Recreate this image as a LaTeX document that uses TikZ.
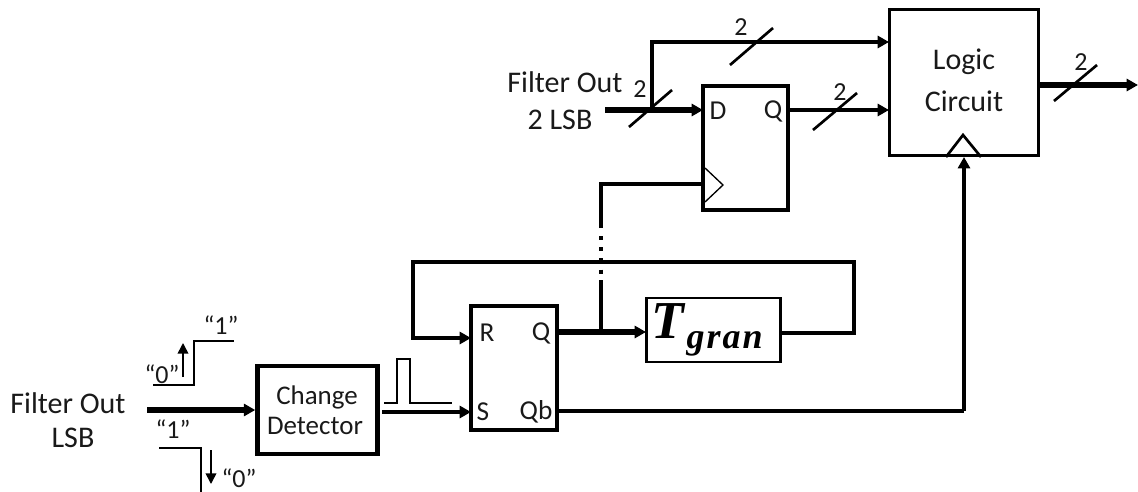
\documentclass[tikz,border=0pt]{standalone}
\usepackage{fontspec}
\setmainfont{Carlito}
\newfontfamily\tgfont{Liberation Serif}
\usetikzlibrary{arrows.meta}
\tikzset{
  x=0.75pt,y=-0.75pt,
  lbl/.style={inner sep=0pt,font=\fontsize{22.5}{26}\selectfont,text=black!90},
  blk/.style={inner sep=0pt,font=\fontsize{20.2}{24}\selectfont,text=black!90},
  pin/.style={inner sep=0pt,font=\fontsize{20.5}{24}\selectfont,text=black!90},
  small/.style={inner sep=0pt,font=\fontsize{19.5}{23}\selectfont,text=black!90},
  boxa/.style={draw,line width=3.4pt,inner sep=0pt,minimum width=0pt},
  boxb/.style={draw,line width=2.1pt,inner sep=0pt},
  bus/.style={line width=3.8pt,-{Triangle[length=8.5pt,width=9pt]}},
  busm/.style={line width=3.4pt,-{Triangle[length=8.5pt,width=9pt]}},
  wire/.style={line width=2.3pt,line cap=rect},
  slash/.style={line width=2pt},
  thin wave/.style={line width=1pt},
  small arrow/.style={line width=1.2pt,-{Triangle[length=8pt,width=8pt]}}
}
\begin{document}
\begin{tikzpicture}
\useasboundingbox (0,0) rectangle (1138,492);
% blocks
\node[boxb,minimum width=112pt,minimum height=110pt] (logic) at (964,82.5) {};
\node[boxa,minimum width=64pt,minimum height=93pt] (dff) at (745.5,148) {};
\node[boxa,minimum width=64.5pt,minimum height=93pt] (sr) at (514,368) {};
\node[boxa,minimum width=90pt,minimum height=66pt] (cd) at (317.5,410) {};
\node[boxb,minimum width=101pt,minimum height=48pt] (tg) at (713.5,330) {};
% block texts
\node[lbl] (logict) at (964,62) {Logic};
\node[lbl] (circt) at (964,101) {Circuit};
\node[blk] (cdt1) at (317,397) {Change};
\node[blk] (cdt2) at (315,426) {Detector};
\node[inner sep=0pt] (tgt) at (707,330) {\tgfont\bfseries\itshape\fontsize{40}{42}\selectfont T\kern2pt\raisebox{-7.5pt}{\fontsize{27}{30}\selectfont g\kern1.5pt r\kern1.5pt a\kern1.5pt n}};
\node[pin] (pd) at (718,111) {D};
\node[pin] (pq) at (773,111) {Q};
\node[pin] (pr) at (487,333) {R};
\node[pin] (pq2) at (541,333) {Q};
\node[pin] (ps) at (483,412) {S};
\node[pin] (pqb) at (536,412) {Qb};
% outside texts
\node[lbl] (fo) at (565,82) {Filter Out};
\node[lbl] (fo2) at (560,120) {2 LSB};
\node[lbl] (lsb1) at (68,403) {Filter Out};
\node[lbl] (lsb2) at (73,438) {LSB};
\node[small] (two1) at (741,27) {2};
\node[small] (two2) at (640,89) {2};
\node[small] (two3) at (840,92) {2};
\node[small] (two4) at (1081,62) {2};
\node[small] (q1) at (221,325) {“1”};
\node[small] (q0) at (162,374) {“0”};
\node[small] (q1b) at (173,429) {“1”};
\node[small] (q0b) at (239,478) {“0”};
% free ends and junctions
\coordinate (inD) at (605,110);
\coordinate (jD) at (652,110);
\coordinate (topc) at (652,42);
\coordinate (dW) at (703,110);
\coordinate (dE) at (788,110);
\coordinate (lW1) at (889,42);
\coordinate (lW2) at (889,110);
\coordinate (lE) at (1039,85);
\coordinate (outE) at (1138,85);
\coordinate (inL) at (147,410);
\coordinate (cdS) at (382,412);
\coordinate (sW) at (471,412);
\coordinate (rW) at (471,338);
\coordinate (srQ) at (557,332);
\coordinate (tgW) at (646,332);
\coordinate (tgE) at (781,333);
\coordinate (jQ) at (601,332);
\coordinate (fbR) at (854,333);
\coordinate (fbTR) at (854,262);
\coordinate (fbTL) at (413,262);
\coordinate (fbBL) at (413,338);
\coordinate (clkW) at (703,184);
\coordinate (clkC) at (601,184);
\coordinate (dot1) at (601,228);
\coordinate (dot2) at (601,280);
\coordinate (qbE) at (557,411);
\coordinate (qbC) at (964,411);
\coordinate (lTri) at (964,157);
% connectors
\draw[busm] (jD) |- (lW1);
\draw[bus] (inD) -- (dW);
\draw[busm] (dE) -- (lW2);
\draw[bus] (lE) -- (outE);
\draw[bus] (inL) -- (cd.west);
\draw[busm] (cdS) -- (sW);
\draw[bus] (srQ) -- (tgW);
\draw[wire,line cap=butt] (jQ) -- (dot2);
\draw[wire,line cap=butt] (dot1) -- (clkC) -- (clkW);
\draw[line width=2.3pt,dash pattern=on 3pt off 5.4pt] (dot1) ++(0,8) -- (dot2);
\draw[wire] (tgE) -- (fbR) -- (fbTR) -- (fbTL) -- (fbBL);
\draw[busm] (fbBL) -- (rW);
\draw[wire,line cap=butt] (qbE) -- (qbC);
\draw[busm] (qbC) -- (lTri);
% bus slashes
\draw[slash] (730,65) -- (773,28);
\draw[slash] (629,127) -- (672,90);
\draw[slash] (813,130) -- (857,93);
\draw[slash] (1054,101) -- (1097,65);
% clock triangles
\draw[line width=1pt] (705,168) -- (723,185) -- (705,202);
\draw[line width=2pt] (946,157) -- (963,135) -- (981,157);
% waveforms
\draw[thin wave] (153,385) -- (194,385) -- (194,341) -- (234,341);
\draw[small arrow] (183,377) -- (183,343);
\draw[thin wave] (159,448) -- (201,448) -- (201,492);
\draw[small arrow] (211,450) -- (211,484);
\draw[thin wave] (384,403) -- (397,403) -- (397,359) -- (410,359) -- (410,403) -- (452,403);
\end{tikzpicture}
\end{document}
